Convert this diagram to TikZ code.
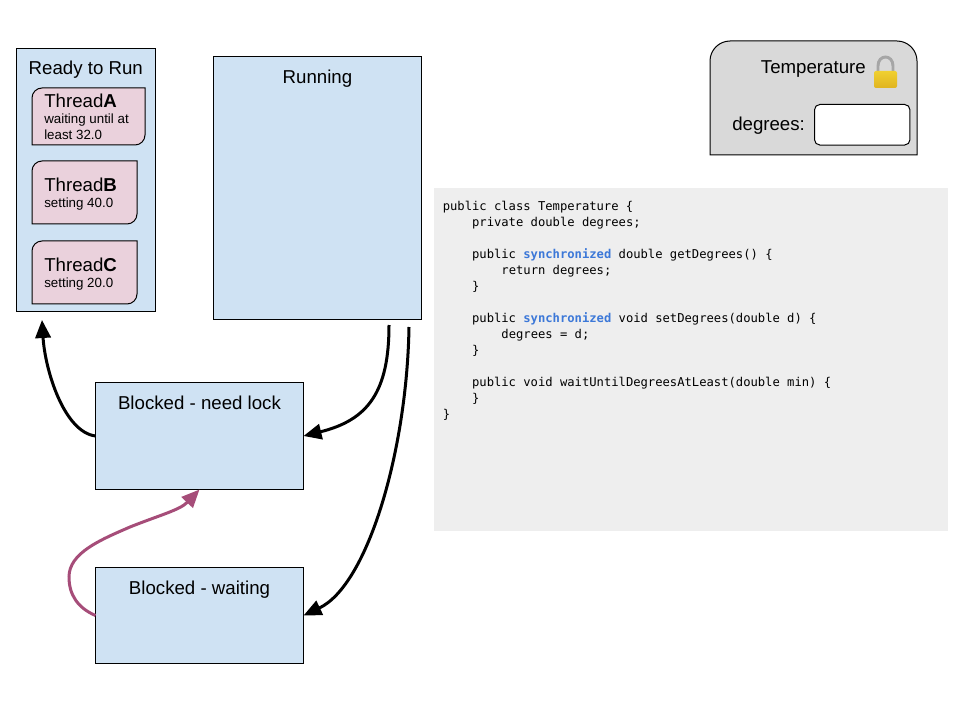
\documentclass[tikz,border=0pt]{standalone}
\usepackage{fontspec}
\setmainfont{Liberation Sans}
\setmonofont{DejaVu Sans Mono}
\usepackage{tikz}
\usetikzlibrary{arrows.meta, positioning}
\definecolor{statefill}{HTML}{CFE2F3}
\definecolor{threadfill}{HTML}{EAD1DC}
\definecolor{objectfill}{HTML}{D9D9D9}
\definecolor{codefill}{HTML}{EEEEEE}
\definecolor{wakeup}{HTML}{A64D79}
\definecolor{keyword}{HTML}{3C78D8}
\definecolor{locktop}{HTML}{F0D030}
\definecolor{lockbottom}{HTML}{E0B420}
\newlength{\codeindent}
\setlength{\codeindent}{22pt}
\newcommand{\threadname}[1]{{\fontsize{14}{14}\selectfont Thread\textbf{#1}}}
\newcommand{\kw}[1]{\textcolor{keyword}{\bfseries #1}}
\newcommand{\threadcard}[4]{\draw[card] (#1,#4) -- (#1,{#2+10}) .. controls (#1,{#2+4.5}) and ({#1+4.5},#2) .. ({#1+10},#2) -- (#3,#2) -- (#3,{#4-10}) .. controls (#3,{#4-4.5}) and ({#3-4.5},#4) .. ({#3-10},#4) -- cycle;}

\begin{document}
\begin{tikzpicture}[
                x=0.75pt, y=-0.75pt,
                statebox/.style={rectangle, draw=black, fill=statefill, line width=0.75pt,
                            anchor=north west, inner sep=0pt, outer sep=0pt},
                card/.style={draw=black, fill=threadfill, line width=0.75pt},
                title/.style={inner sep=0pt, font=\fontsize{14}{16}\selectfont},
                threadtext/.style={inner sep=0pt, anchor=north west, align=left,
                            font=\fontsize{10}{12}\selectfont},
                arr/.style={-{Triangle[length=13.5pt, width=11.5pt]}, line width=2.25pt, black},
                wakearr/.style={-{Triangle[length=13.5pt, width=11.5pt]}, line width=2.25pt, wakeup}
            ]
                \useasboundingbox (0,0) rectangle (960,720);

                % states
                \node[statebox, minimum width=103.9pt, minimum height=197.6pt] (ready) at (16.5,48.5) {};
                \node[statebox, minimum width=156pt, minimum height=197.6pt] (running) at (213.5,56.5) {};
                \node[statebox, minimum width=156pt, minimum height=80.25pt] (needlock) at (95.5,382.5) {};
                \node[statebox, minimum width=156pt, minimum height=72pt] (waiting) at (95.5,567.5) {};
                \node[title, below=9.5pt of ready.north] {Ready to Run};
                \node[title, below=10.25pt of running.north] {Running};
                \node[title, below=10.25pt of needlock.north] {Blocked - need lock};
                \node[title, below=10.25pt of waiting.north] {Blocked - waiting};

                % threads
                \threadcard{32}{88}{145}{145}
                \threadcard{32}{161}{137}{224}
                \threadcard{32}{241}{137}{304}
                \node[threadtext] (threadA) at (44,93.5) {\threadname{A}\\[0.3pt]waiting until at\\least 32.0};
                \node[threadtext] (threadB) at (44,177.5) {\threadname{B}\\[0.3pt]setting 40.0};
                \node[threadtext] (threadC) at (44,257.5) {\threadname{C}\\[0.3pt]setting 20.0};

                % connectors
                \coordinate (readyin) at (42,320);
                \coordinate (runleft) at (389,325);
                \coordinate (runright) at (409,327);
                \draw[arr] (needlock.west) .. controls (64,432) and (45,370) .. (readyin);
                \draw[arr] (runleft) .. controls (389,392) and (368,420) .. (needlock.east);
                \draw[arr] (runright) .. controls (407,450) and (368,585) .. (waiting.east);
                \draw[wakearr] (waiting.west) .. controls (78,608) and (69,595) .. (69,577)
                    .. controls (69,553) and (100,540) .. (130,527)
                    .. controls (160,515) and (180,510) .. (needlock.south);

                % object
                \draw[draw=black, fill=objectfill, line width=0.75pt] (710,155) -- (710,61)
                    .. controls (710,50) and (719,41) .. (730,41) -- (897,41)
                    .. controls (908,41) and (917,50) .. (917,61) -- (917,155) -- cycle;
                \node[title, anchor=east] (classname) at (866,69) {Temperature};
                \node[rectangle, draw=black, fill=white, line width=0.75pt, rounded corners=4pt,
                    anchor=north west, minimum width=71.6pt, minimum height=30.4pt, inner sep=0pt, outer sep=0pt] (field) at (814.5,104.5) {};
                \node[title, left=7pt of field, yshift=-0.75pt] (fieldname) {degrees:};

                % lock
                \draw[gray!70, line width=2.2pt] (878,72) -- (878,66) .. controls (878,54) and (893,54) .. (893,66) -- (893,72);
                \shade[top color=locktop, bottom color=lockbottom, rounded corners=1.5pt] (874,71) rectangle (897,88);

                % code
                \node[rectangle, fill=codefill, anchor=north west, minimum width=385.9pt, minimum height=257.25pt, inner sep=0pt, outer sep=0pt] (codepanel) at (433.5,188) {};
                \node[inner sep=0pt, anchor=north west, align=left, font=\fontsize{9.13}{12}\ttfamily\selectfont] (code) at (442.5,201) {public class Temperature \{\\
\hspace*{\codeindent}private double degrees;\\
\mbox{}\\
\hspace*{\codeindent}public \kw{synchronized} double getDegrees() \{\\
\hspace*{2\codeindent}return degrees;\\
\hspace*{\codeindent}\}\\
\mbox{}\\
\hspace*{\codeindent}public \kw{synchronized} void setDegrees(double d) \{\\
\hspace*{2\codeindent}degrees = d;\\
\hspace*{\codeindent}\}\\
\mbox{}\\
\hspace*{\codeindent}public void waitUntilDegreesAtLeast(double min) \{\\
\hspace*{\codeindent}\}\\
\}};
            \end{tikzpicture}
\end{document}
